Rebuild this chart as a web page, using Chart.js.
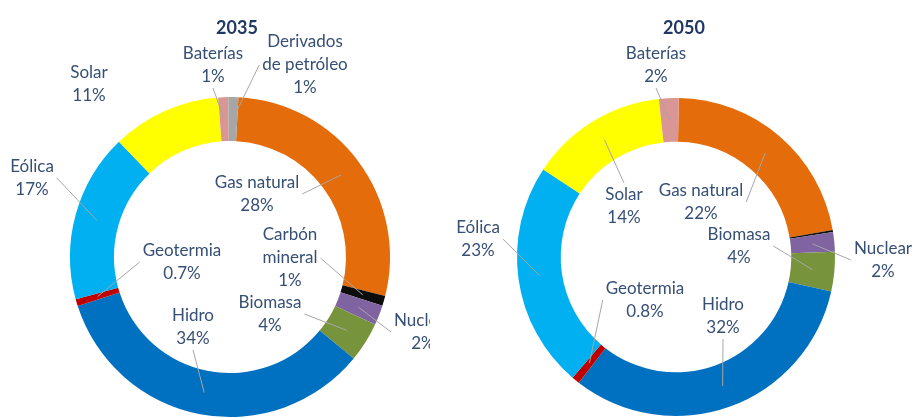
<!DOCTYPE html>
<html>
<head>
<meta charset="utf-8">
<script src="https://cdn.jsdelivr.net/npm/chart.js@4.4.0/dist/chart.umd.min.js"></script>
<style>
    html, body { margin: 0; padding: 0; background: #fff; }
    #wrap { position: relative; width: 912px; height: 418px; overflow: hidden; }
    .panel { position: absolute; top: 0; height: 418px; overflow: hidden; }
    #p2035 { left: 0; width: 430px; }
    #p2050 { left: 430px; width: 482px; }
</style>
</head>
<body>
<div id="wrap">
    <div class="panel" id="p2035"><canvas id="c2035"></canvas></div>
    <div class="panel" id="p2050"><canvas id="c2050"></canvas></div>
</div>
<script>
// data, clockwise from the top of each ring
const categories2035 = [['Gas natural'], ['Carbón', 'mineral'], ['Nuclear'], ['Biomasa'], ['Hidro'], ['Geotermia'], ['Eólica'], ['Solar'], ['Baterías'], ['Derivados', 'de petróleo']];
const values2035 = [28, 1, 2, 4, 34, 0.7, 17, 11, 1, 1];

const categories2050 = [['Gas natural'], ['Carbón', 'mineral'], ['Nuclear'], ['Biomasa'], ['Hidro'], ['Geotermia'], ['Eólica'], ['Solar'], ['Baterías']];
const values2050 = [22, 0.2, 2, 4, 32, 0.8, 23, 14, 2];

const sliceColors = ['#E46C0A', '#0D0D0D', '#8064A2', '#77933C', '#0070C0', '#C00000', '#00B0F0', '#FFFF00', '#D99694', '#A6A6A6'];

const FONT = 'Lato, "Liberation Sans", sans-serif';

// label block centres, relative to the ring centre; [dx, dy, leaderLine]
const spots2035 = [
    [27, -63, true],    // Gas natural
    [60, 1, true],      // Carbón
    [193, 75, true],    // Nuclear
    [40, 57, true],     // Biomasa
    [-37, 70, true],    // Hidro
    [-48, 5, true],     // Geotermia
    [-198, -79, true],  // Eólica
    [-141, -173, false],// Solar
    [-17, -192, true],  // Baterías
    [75, -192, true]    // Derivados
];
const spots2050 = [
    [25, -55, true],
    null,
    [207, 3, true],
    [63, -11, true],
    [47, 59, true],
    [-31, 43, true],
    [-198, -18, true],
    [-52, -51, true],
    [-20, -192, true]
];

function pct(v) {
    return Number.isInteger(v) ? v + '%' : v.toFixed(1) + '%';
}

const callouts = {
    id: 'callouts',
    afterDatasetsDraw(chart, args, opts) {
        const ctx = chart.ctx;
        const meta = chart.getDatasetMeta(0);
        const values = chart.data.datasets[0].data;
        const cx = meta.data[0].x, cy = meta.data[0].y;
        const lh = 23;

        ctx.save();
        ctx.textAlign = 'center';
        ctx.textBaseline = 'middle';

        // title
        ctx.fillStyle = '#1F3864';
        ctx.font = 'bold 18px ' + FONT;
        ctx.fillText(opts.title, cx + opts.titleDx, 28);

        ctx.font = '17px ' + FONT;
        opts.spots.forEach((s, i) => {
            if (!s) return;
            const arc = meta.data[i].getProps(['startAngle', 'endAngle', 'innerRadius', 'outerRadius'], true);
            const mid = (arc.startAngle + arc.endAngle) / 2;
            const rr = (arc.innerRadius + arc.outerRadius) / 2;
            const tx = cx + Math.cos(mid) * rr;
            const ty = cy + Math.sin(mid) * rr;

            const lines = chart.data.labels[i].concat([pct(values[i])]);
            const w = Math.max(...lines.map(l => ctx.measureText(l).width));
            const h = lines.length * lh;
            const bx = cx + s[0], by = cy + s[1];
            const left = bx - w / 2 - 3, right = bx + w / 2 + 3;
            const top = by - h / 2, bottom = by + h / 2;

            if (s[2]) {
                let sx, sy;
                if (tx > right) { sx = right; sy = by; }
                else if (tx < left) { sx = left; sy = by; }
                else { sx = bx; sy = ty > by ? bottom : top; }
                ctx.strokeStyle = '#A6A6A6';
                ctx.lineWidth = 1;
                ctx.beginPath();
                ctx.moveTo(sx, sy);
                ctx.lineTo(tx, ty);
                ctx.stroke();
            }

            ctx.fillStyle = '#364F75';
            lines.forEach((l, k) => {
                ctx.fillText(l, bx, top + lh / 2 + k * lh);
            });
        });
        ctx.restore();
    }
};

function makeRing(id, labels, values, rotation, padding, title, titleDx, spots) {
    return new Chart(document.getElementById(id), {
        type: 'doughnut',
        data: {
            labels: labels,
            datasets: [{
                data: values,
                backgroundColor: sliceColors.slice(0, values.length),
                borderWidth: 0
            }]
        },
        options: {
            responsive: true,
            maintainAspectRatio: false,
            animation: false,
            rotation: rotation,
            cutout: '72.5%',
            layout: { padding: padding },
            events: [],
            plugins: {
                legend: { display: false },
                tooltip: { enabled: false },
                title: { display: false },
                callouts: { title: title, titleDx: titleDx, spots: spots }
            }
        },
        plugins: [callouts]
    });
}

makeRing('c2035', categories2035, values2035, 3, { left: 70, right: 40, top: 97, bottom: 1 }, '2035', 7, spots2035);
makeRing('c2050', categories2050, values2050, 1, { left: 87, right: 77, top: 98, bottom: 2 }, '2050', 8, spots2050);
</script>
</body>
</html>
